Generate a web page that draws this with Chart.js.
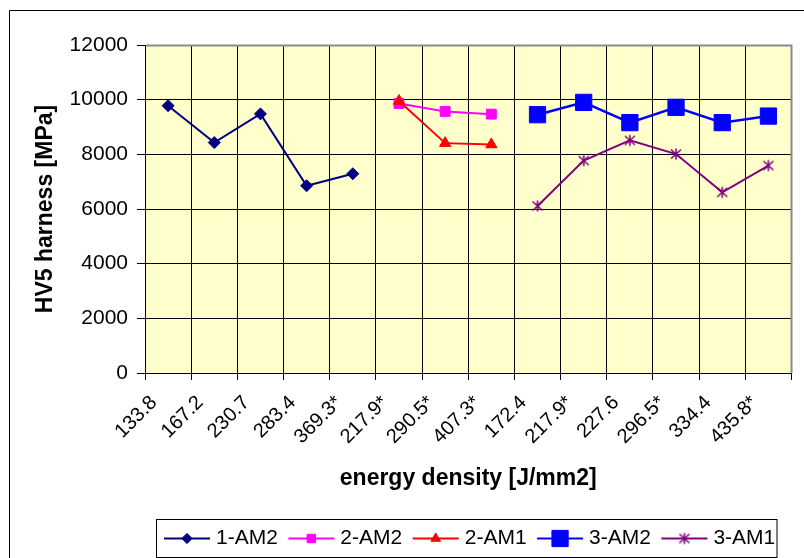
<!DOCTYPE html>
<html>
<head>
<meta charset="utf-8">
<script src="https://cdn.jsdelivr.net/npm/chart.js@4/dist/chart.umd.min.js"></script>
<style>
  html, body { margin: 0; padding: 0; background: #fff; overflow: hidden; }
  #wrap { position: relative; width: 804px; height: 558px; }
</style>
</head>
<body>
<div id="wrap"><canvas id="c" width="804" height="558"></canvas></div>
<script>
// Energy density per sample (J/mm2); * marks the starred conditions
const energyLabels = ['133.8', '167.2', '230.7', '283.4', '369.3*', '217.9*', '290.5*', '407.3*',
                      '172.4', '217.9*', '227.6', '296.5*', '334.4', '435.8*'];

// HV5 hardness (MPa) for each series; null where a series has no sample
const hv1AM2 = [9780, 8430, 9480, 6850, 7290, null, null, null, null, null, null, null, null, null];
const hv2AM2 = [null, null, null, null, null, 9860, 9570, 9470, null, null, null, null, null, null];
const hv2AM1 = [null, null, null, null, null, 9950, 8410, 8360, null, null, null, null, null, null];
const hv3AM2 = [null, null, null, null, null, null, null, null, 9450, 9900, 9160, 9720, 9160, 9400];
const hv3AM1 = [null, null, null, null, null, null, null, null, 6110, 7770, 8510, 8010, 6610, 7590];

const seriesNames = ['1-AM2', '2-AM2', '2-AM1', '3-AM2', '3-AM1'];
const yMin = 0, yMax = 12000, yStep = 2000;

const FONT = '"Liberation Sans", Arial, sans-serif';

// asterisk marker: an X crossed by a vertical stroke
function asteriskImage(color) {
  const s = 14, c = document.createElement('canvas');
  c.width = s; c.height = s;
  const g = c.getContext('2d');
  g.strokeStyle = color; g.lineWidth = 1.6; g.lineCap = 'butt';
  g.beginPath();
  g.moveTo(7, 1.5); g.lineTo(7, 12.5);
  g.moveTo(2, 2.5); g.lineTo(12, 11.5);
  g.moveTo(12, 2.5); g.lineTo(2, 11.5);
  g.stroke();
  return c;
}
const starMark = asteriskImage('#800080');

const styles = [
  { color: '#000080', point: 'rectRot', radius: 6,   width: 2   },
  { color: '#FF00FF', point: 'rect',    radius: 7,   width: 2   },
  { color: '#FF0000', point: 'triangle',radius: 6.5, width: 2   },
  { color: '#0000FF', point: 'rect',    radius: 11.5,width: 2.5 },
  { color: '#800080', point: starMark,  radius: 7,   width: 2   }
];
const seriesData = [hv1AM2, hv2AM2, hv2AM1, hv3AM2, hv3AM1];

const datasets = seriesNames.map((name, i) => ({
  label: name,
  data: seriesData[i],
  borderColor: styles[i].color,
  backgroundColor: styles[i].color,
  borderWidth: styles[i].width,
  pointStyle: styles[i].point,
  pointRadius: styles[i].radius,
  pointHoverRadius: styles[i].radius,
  pointBackgroundColor: styles[i].color,
  pointBorderColor: styles[i].color,
  pointBorderWidth: 1,
  tension: 0,
  spanGaps: false,
  order: seriesNames.length - i
}));

// page frame, plot fill and plot border
const framePlugin = {
  id: 'frame',
  beforeDraw(chart) {
    const { ctx, chartArea: a } = chart;
    ctx.save();
    ctx.fillStyle = '#ffffff';
    ctx.fillRect(0, 0, chart.width, chart.height);
    ctx.fillStyle = '#FFFFCC';
    ctx.fillRect(a.left, a.top, a.right - a.left, a.bottom - a.top);
    ctx.strokeStyle = '#000';
    ctx.lineWidth = 1;
    ctx.beginPath();
    ctx.moveTo(9.5, chart.height); ctx.lineTo(9.5, 10.5); ctx.lineTo(chart.width, 10.5);
    ctx.stroke();
    ctx.restore();
  },
  afterDraw(chart) {
    const { ctx, chartArea: a } = chart;
    ctx.save();
    ctx.strokeStyle = '#8a8a8a';
    ctx.lineWidth = 2;
    ctx.beginPath();
    ctx.moveTo(a.left + 1, a.top + 0.5); ctx.lineTo(a.right, a.top + 0.5); ctx.lineTo(a.right, a.bottom);
    ctx.stroke();
    ctx.restore();
  }
};

// boxed legend with line-and-marker swatches
function drawMarker(ctx, st, x, y) {
  ctx.fillStyle = st.color;
  ctx.strokeStyle = st.color;
  ctx.lineWidth = 1;
  const r = st.radius;
  if (typeof st.point !== 'string') {
    ctx.drawImage(st.point, x - st.point.width / 2, y - st.point.height / 2);
    return;
  }
  ctx.beginPath();
  if (st.point === 'rect') {
    const h = Math.SQRT1_2 * r;
    ctx.rect(x - h, y - h, 2 * h, 2 * h);
  } else if (st.point === 'rectRot') {
    ctx.moveTo(x, y - r); ctx.lineTo(x + r, y); ctx.lineTo(x, y + r); ctx.lineTo(x - r, y);
    ctx.closePath();
  } else if (st.point === 'triangle') {
    for (let k = 0; k < 3; k++) {
      const ang = k * 2 * Math.PI / 3;
      const px = x + Math.sin(ang) * r, py = y - Math.cos(ang) * r;
      if (k === 0) ctx.moveTo(px, py); else ctx.lineTo(px, py);
    }
    ctx.closePath();
  }
  ctx.fill();
  ctx.stroke();
}

const legendPlugin = {
  id: 'boxLegend',
  afterDraw(chart) {
    const { ctx, chartArea: a } = chart;
    const box = { left: a.left + 11, right: a.right - 15, top: a.bottom + 146, bottom: a.bottom + 184 };
    ctx.save();
    ctx.strokeStyle = '#000';
    ctx.lineWidth = 1;
    ctx.strokeRect(box.left + 0.5, box.top + 0.5, box.right - box.left, box.bottom - box.top);
    ctx.font = '21px ' + FONT;
    ctx.textBaseline = 'middle';
    ctx.textAlign = 'left';
    const cy = (box.top + box.bottom) / 2;
    let x = box.left + 8;
    seriesNames.forEach((name, i) => {
      const st = styles[i];
      ctx.strokeStyle = st.color;
      ctx.lineWidth = 2;
      ctx.beginPath();
      ctx.moveTo(x, cy + 0.5); ctx.lineTo(x + 46, cy + 0.5);
      ctx.stroke();
      drawMarker(ctx, { ...st, radius: st.radius * (i === 3 ? 1 : 0.85) }, x + 23, cy + 0.5);
      ctx.fillStyle = '#000';
      ctx.fillText(name, x + 52, cy);
      x += 52 + ctx.measureText(name).width + 10.5;
    });
    ctx.restore();
  }
};

new Chart(document.getElementById('c'), {
  type: 'line',
  data: { labels: energyLabels, datasets },
  plugins: [framePlugin, legendPlugin],
  options: {
    responsive: false,
    animation: false,
    devicePixelRatio: 1,
    layout: { padding: { left: 0, top: 45, right: 6, bottom: 0 } },
    plugins: { legend: { display: false }, tooltip: { enabled: false } },
    scales: {
      x: {
        type: 'category',
        offset: true,
        grid: { offset: true, color: '#000', lineWidth: 1, drawTicks: true, tickLength: 7, tickColor: '#000' },
        border: { color: '#000', width: 1 },
        ticks: {
          autoSkip: false, maxRotation: 45, minRotation: 45, color: '#000', padding: 11, labelOffset: -14,
          font: { size: 20, family: FONT }
        },
        title: {
          display: true, text: 'energy density [J/mm2]', color: '#000',
          font: { size: 23, weight: 'bold', family: FONT },
          padding: { top: 0, bottom: 66 }
        },
        afterFit(scale) {
          scale.height = 185;
          scale.paddingLeft = 0;
          scale.paddingRight = 0;
        }
      },
      y: {
        min: yMin, max: yMax,
        grid: { color: '#000', lineWidth: 1, drawTicks: true, tickLength: 8, tickColor: '#000' },
        border: { color: '#000', width: 1 },
        ticks: {
          stepSize: yStep, padding: 9, color: '#000', font: { size: 21, family: FONT },
          callback: (v) => String(v)
        },
        title: {
          display: true, text: 'HV5 harness [MPa]', color: '#000',
          font: { size: 23, weight: 'bold', family: FONT },
          padding: { top: 32, bottom: 0 }
        },
        afterFit(scale) { scale.width = 145; }
      }
    }
  }
});
</script>
</body>
</html>
